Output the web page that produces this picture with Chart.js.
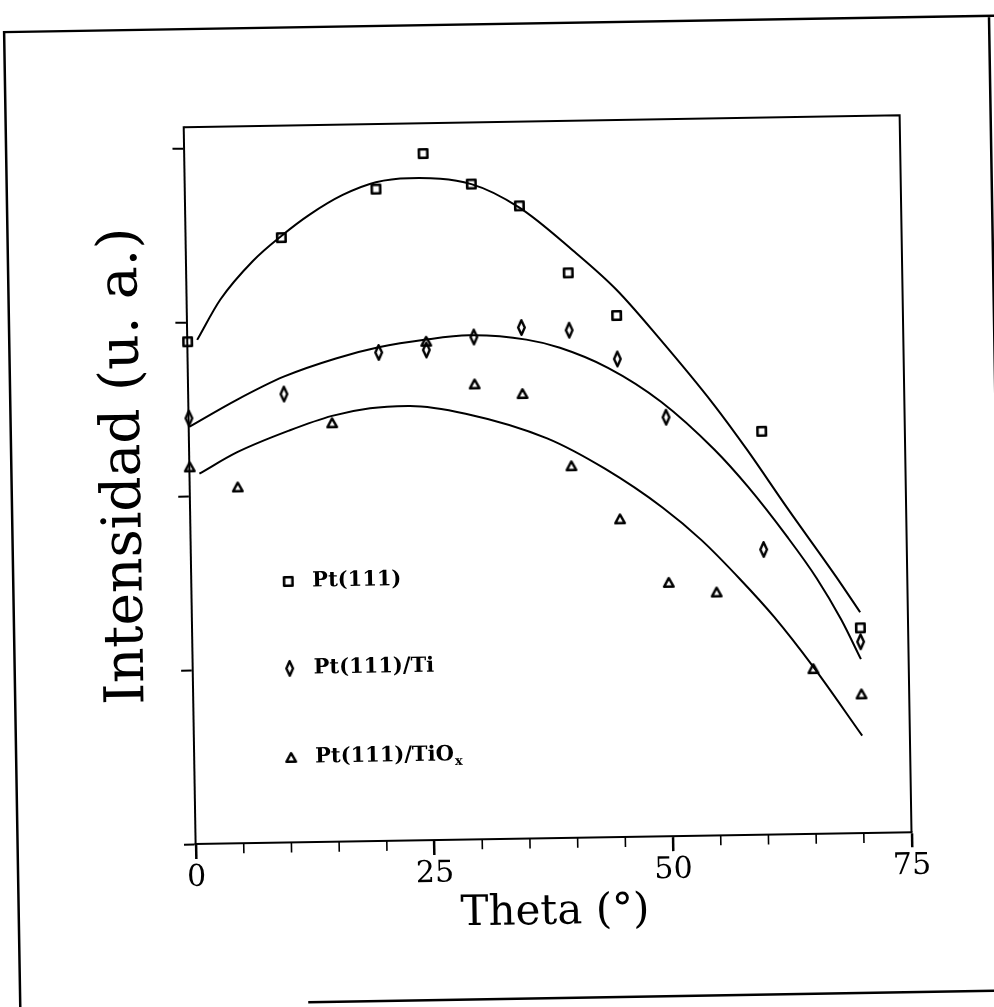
<!DOCTYPE html>
<html>
<head>
<meta charset="utf-8">
<script src="https://cdn.jsdelivr.net/npm/chart.js@4.4.1/dist/chart.umd.min.js"></script>
<style>
  html, body { margin: 0; padding: 0; background: #fff; }
  canvas { display: block; }
</style>
</head>
<body>
<canvas id="intensityChart" width="994" height="1007"></canvas>
<script>
// Pt(111) intensity vs. emission angle for three surfaces: measured points + fitted curves

const ptTheta = [0, 10, 20, 25, 30, 35, 40, 45, 60, 70];
const ptValues = [2.89, 3.48, 3.75, 3.95, 3.77, 3.64, 3.25, 3.00, 2.32, 1.18];

const tiTheta = [0, 10, 20, 25, 30, 35, 40, 45, 50, 60, 70];
const tiValues = [2.45, 2.58, 2.81, 2.82, 2.89, 2.94, 2.92, 2.75, 2.41, 1.64, 1.10];

const tioTheta = [0, 5, 15, 25, 30, 35, 40, 45, 50, 55, 65, 70];
const tioValues = [2.17, 2.05, 2.41, 2.87, 2.62, 2.56, 2.14, 1.83, 1.46, 1.40, 0.95, 0.80];

// fitted curves
const ptFitTheta = [1, 3.5, 7, 10, 13, 16.5, 20, 23.5, 30, 35, 40.5, 45, 49.5, 55, 58.5, 62.5, 67.5, 70];
const ptFitValues = [2.90, 3.13, 3.35, 3.49, 3.61, 3.72, 3.79, 3.81, 3.77, 3.63, 3.38, 3.15, 2.86, 2.48, 2.21, 1.88, 1.48, 1.27];

const tiFitTheta = [0, 5, 10, 15.5, 20, 25, 29.5, 35.5, 39, 44, 49.5, 55, 58.5, 62.5, 65.5, 68, 70];
const tiFitValues = [2.40, 2.55, 2.68, 2.78, 2.84, 2.88, 2.90, 2.87, 2.82, 2.70, 2.50, 2.22, 2.00, 1.71, 1.47, 1.23, 1.00];

const tioFitTheta = [1, 5, 10.5, 15, 19, 23, 29, 37.5, 43.5, 49.5, 53.5, 57.5, 61, 65, 70];
const tioFitValues = [2.13, 2.25, 2.37, 2.45, 2.49, 2.50, 2.45, 2.30, 2.12, 1.89, 1.70, 1.47, 1.25, 0.96, 0.56];

const xTicks = [0, 25, 50, 75];
const xMinorTicks = [5, 10, 15, 20, 30, 35, 40, 45, 55, 60, 65, 70];
const yTicks = [0, 1, 2, 3, 4];

const legendLabels = ['Pt(111)', 'Pt(111)/Ti', 'Pt(111)/TiO'];

const toXY = (xs, ys) => xs.map((x, i) => ({ x, y: ys[i] }));

// open outline markers drawn on small canvases
function makeMarker(kind, w, h, lw) {
  const c = document.createElement('canvas');
  c.width = w + 2; c.height = h + 2;
  const g = c.getContext('2d');
  g.strokeStyle = '#000';
  g.lineWidth = lw;
  g.lineJoin = 'round';
  const p = 1 + lw / 2;
  const W = c.width, H = c.height;
  g.beginPath();
  if (kind === 'square') {
    g.rect(p, p, W - 2 * p, H - 2 * p);
  } else if (kind === 'diamond') {
    g.moveTo(W / 2, p); g.lineTo(W - p, H / 2); g.lineTo(W / 2, H - p); g.lineTo(p, H / 2); g.closePath();
  } else {
    g.moveTo(W / 2, p); g.lineTo(W - p, H - p); g.lineTo(p, H - p); g.closePath();
  }
  g.stroke();
  return c;
}

const squareMark = makeMarker('square', 11, 11, 2.6);
const diamondMark = makeMarker('diamond', 9, 17, 2.4);
const triangleMark = makeMarker('triangle', 12, 11, 2.4);
const markers = [squareMark, diamondMark, triangleMark];

const pointSet = (label, data, mark) => ({
  label, data, pointStyle: mark, pointRadius: 5, showLine: false, clip: false
});
const fitSet = (data) => ({
  data, showLine: true, pointRadius: 0, borderColor: '#000', borderWidth: 2,
  cubicInterpolationMode: 'monotone', fill: false
});

const serif = '"DejaVu Serif", "Liberation Serif", serif';

// page frame, plot box, minor ticks, y title and the legend inside the plot
const scanPage = {
  id: 'scanPage',
  beforeDraw(chart) {
    const ctx = chart.ctx;
    ctx.save();
    ctx.fillStyle = '#fff';
    ctx.fillRect(0, 0, chart.width, chart.height);
    ctx.translate(497, 503.5);
    ctx.rotate(-0.95 * Math.PI / 180);
    ctx.translate(-497, -503.5);

    ctx.strokeStyle = '#000';
    ctx.lineWidth = 2.5;
    ctx.beginPath();
    ctx.moveTo(12, 1040); ctx.lineTo(12, 24); ctx.lineTo(1010, 24);
    ctx.moveTo(997, 24); ctx.lineTo(997, 1040);
    ctx.moveTo(300, 999); ctx.lineTo(1010, 999);
    ctx.stroke();
  },
  afterDraw(chart) {
    const { ctx, chartArea: a, scales: { x } } = chart;
    ctx.strokeStyle = '#000';
    ctx.lineWidth = 2;
    ctx.beginPath();
    ctx.moveTo(a.left, a.top); ctx.lineTo(a.right, a.top); ctx.lineTo(a.right, a.bottom);
    ctx.stroke();

    ctx.lineWidth = 1.6;
    ctx.beginPath();
    xMinorTicks.forEach(v => {
      const px = x.getPixelForValue(v);
      ctx.moveTo(px, a.bottom); ctx.lineTo(px, a.bottom + 10);
    });
    ctx.stroke();

    ctx.fillStyle = '#000';
    ctx.save();
    ctx.translate(126, 460);
    ctx.rotate(-Math.PI / 2);
    ctx.textAlign = 'center';
    ctx.textBaseline = 'middle';
    ctx.font = '55px ' + serif;
    ctx.fillText('Intensidad (u. a.)', 0, 0);
    ctx.restore();

    const rows = [578, 665, 754];
    ctx.textBaseline = 'middle';
    ctx.textAlign = 'left';
    legendLabels.forEach((t, i) => {
      const m = markers[i];
      ctx.drawImage(m, 287 - m.width / 2, rows[i] - m.height / 2);
      ctx.font = 'bold 21px ' + serif;
      ctx.fillText(t, 311, rows[i]);
      if (i === 2) {
        const w = ctx.measureText(t).width;
        ctx.font = 'bold 13px ' + serif;
        ctx.fillText('x', 311 + w + 1, rows[i] + 7);
      }
    });
    ctx.restore();
  }
};

new Chart(document.getElementById('intensityChart'), {
  type: 'scatter',
  data: {
    datasets: [
      pointSet('Pt(111)', toXY(ptTheta, ptValues), squareMark),
      pointSet('Pt(111)/Ti', toXY(tiTheta, tiValues), diamondMark),
      pointSet('Pt(111)/TiOx', toXY(tioTheta, tioValues), triangleMark),
      fitSet(toXY(ptFitTheta, ptFitValues)),
      fitSet(toXY(tiFitTheta, tiFitValues)),
      fitSet(toXY(tioFitTheta, tioFitValues))
    ]
  },
  options: {
    responsive: false,
    animation: false,
    layout: { padding: { top: 122, right: 88, left: 0, bottom: 0 } },
    plugins: { legend: { display: false }, tooltip: { enabled: false } },
    scales: {
      x: {
        type: 'linear', min: 0, max: 75,
        afterBuildTicks: s => { s.ticks = xTicks.map(v => ({ value: v })); },
        afterFit: s => { s.height = 168; },
        grid: { drawOnChartArea: false, tickLength: 15, tickWidth: 2.5, tickColor: '#000' },
        border: { color: '#000', width: 2 },
        ticks: { color: '#000', padding: 1, maxRotation: 0, autoSkip: false, font: { family: serif, size: 30 } },
        title: { display: true, text: 'Theta (°)', color: '#000', font: { family: serif, size: 42 }, padding: { top: 0, bottom: 68 } }
      },
      y: {
        type: 'linear', min: 0, max: 4.125,
        afterBuildTicks: s => { s.ticks = yTicks.map(v => ({ value: v })); },
        afterFit: s => { s.width = 190.4; },
        grid: { drawOnChartArea: false, tickLength: 12, tickWidth: 2, tickColor: '#000' },
        border: { color: '#000', width: 2 },
        ticks: { display: false }
      }
    }
  },
  plugins: [scanPage]
});
</script>
</body>
</html>
